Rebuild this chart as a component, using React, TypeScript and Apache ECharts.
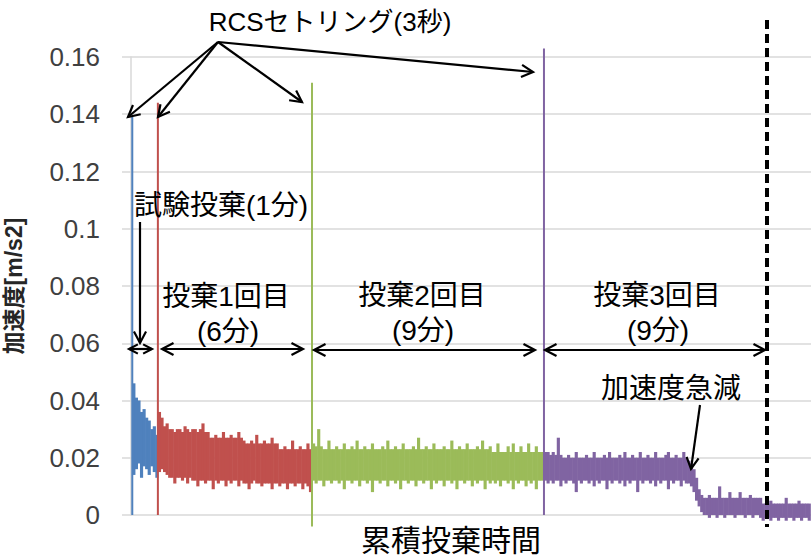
import React, { useEffect, useRef } from "react";
import * as echarts from "echarts";

// ---- axis values ----
const yTicks = [0, 0.02, 0.04, 0.06, 0.08, 0.1, 0.12, 0.14, 0.16];
const xMinMinutes = 0;
const xMaxMinutes = 26.56;
const stepMin = 0.1; // width of one sample block (minutes)

// ---- 試験投棄 (blue) ----
const blueStart = 0.05;
const blueHi = [0.046, 0.041, 0.040, 0.036, 0.037, 0.034, 0.033, 0.030, 0.031, 0.028];
const blueLo = [0.014, 0.016, 0.018, 0.013, 0.017, 0.016, 0.014, 0.017, 0.015, 0.013];

// ---- 投棄1回目 (red) ----
const redStart = 1.05;
const redHi = [
  0.036, 0.034, 0.031, 0.032, 0.030, 0.030,
  0.029, 0.030, 0.030, 0.029, 0.031, 0.030, 0.029, 0.030, 0.030, 0.029,
  0.030, 0.032, 0.029, 0.029,
  0.027, 0.027, 0.028, 0.027, 0.027, 0.029, 0.027, 0.027, 0.028, 0.027, 0.027, 0.029, 0.027, 0.026,
  0.025, 0.025, 0.026, 0.025, 0.028, 0.025, 0.025, 0.026, 0.025, 0.025, 0.027, 0.025, 0.025,
  0.023, 0.023, 0.024, 0.023, 0.023, 0.026, 0.023, 0.023, 0.024, 0.023, 0.023, 0.025, 0.023,
];
const redLo = [
  0.015, 0.016, 0.015, 0.014,
  0.013, 0.013, 0.011, 0.013, 0.013, 0.012, 0.013, 0.011, 0.013,
  0.012, 0.012, 0.010, 0.012, 0.012, 0.011, 0.012, 0.012, 0.009, 0.012,
  0.011, 0.012, 0.012, 0.010, 0.012, 0.011, 0.012, 0.012, 0.010, 0.012,
  0.011, 0.011, 0.009, 0.011, 0.012, 0.011, 0.011, 0.010, 0.011, 0.011,
  0.011, 0.009, 0.011, 0.011, 0.010, 0.011, 0.011, 0.009, 0.011, 0.011,
  0.010, 0.011, 0.011, 0.009, 0.011, 0.010, 0.008,
];

// ---- 投棄2回目 (green) ----
const greenStart = 7.07;
const greenHi = [
  0.025, 0.024, 0.030, 0.024, 0.023, 0.023, 0.026, 0.023, 0.023, 0.024,
  0.023, 0.023, 0.025, 0.023, 0.023, 0.024, 0.023, 0.026, 0.023, 0.023,
  0.024, 0.023, 0.023, 0.025, 0.023, 0.023, 0.023, 0.024, 0.023, 0.026,
  0.023, 0.023, 0.024, 0.023, 0.023, 0.025, 0.023, 0.023, 0.023, 0.024,
  0.023, 0.027, 0.023, 0.023, 0.024, 0.023, 0.023, 0.025, 0.023, 0.023,
  0.023, 0.024, 0.023, 0.023, 0.026, 0.023, 0.023, 0.024, 0.023, 0.023,
  0.025, 0.023, 0.023, 0.023, 0.024, 0.023, 0.026, 0.023, 0.023, 0.024,
  0.022, 0.022, 0.025, 0.022, 0.022, 0.022, 0.024, 0.022, 0.025, 0.022,
  0.022, 0.024, 0.022, 0.022, 0.025, 0.022, 0.022, 0.024, 0.022, 0.022,
];
const greenLo = [
  0.012, 0.011, 0.012, 0.012, 0.010, 0.012, 0.012, 0.011, 0.012, 0.012,
  0.011, 0.012, 0.009, 0.012, 0.012, 0.011, 0.012, 0.012, 0.010, 0.012,
  0.012, 0.011, 0.012, 0.008, 0.012, 0.012, 0.011, 0.012, 0.012, 0.010,
  0.012, 0.012, 0.011, 0.012, 0.009, 0.012, 0.012, 0.011, 0.012, 0.012,
  0.010, 0.012, 0.012, 0.011, 0.012, 0.012, 0.009, 0.012, 0.011, 0.012,
  0.012, 0.010, 0.012, 0.012, 0.011, 0.012, 0.009, 0.012, 0.012, 0.011,
  0.012, 0.012, 0.010, 0.012, 0.011, 0.012, 0.012, 0.009, 0.012, 0.011,
  0.012, 0.011, 0.012, 0.010, 0.012, 0.012, 0.011, 0.012, 0.009, 0.012,
  0.011, 0.012, 0.012, 0.010, 0.012, 0.011, 0.012, 0.009, 0.012, 0.012,
];

// ---- 投棄3回目 (purple) ----
const purpleStart = 16.13;
const purpleHi = [
  0.022, 0.022, 0.021, 0.022, 0.021, 0.027, 0.021, 0.020, 0.020, 0.021,
  0.020, 0.020, 0.022, 0.020, 0.020, 0.020, 0.021, 0.020, 0.020, 0.022,
  0.020, 0.020, 0.020, 0.021, 0.020, 0.022, 0.020, 0.020, 0.020, 0.021,
  0.020, 0.022, 0.020, 0.020, 0.021, 0.020, 0.020, 0.022, 0.020, 0.020,
  0.021, 0.020, 0.020, 0.022, 0.020, 0.020, 0.020, 0.021, 0.022, 0.020,
  0.020, 0.021, 0.020, 0.020, 0.022, 0.020, 0.019, 0.018, 0.016, 0.013,
  0.009, 0.007, 0.006, 0.006, 0.007, 0.006, 0.006, 0.006, 0.010, 0.006,
  0.006, 0.006, 0.008, 0.006, 0.006, 0.006, 0.008, 0.006, 0.006, 0.006,
  0.007, 0.006, 0.006, 0.006, 0.006, 0.004, 0.004, 0.004, 0.005, 0.004,
  0.004, 0.004, 0.004, 0.004, 0.006, 0.004, 0.004, 0.004, 0.004, 0.005,
  0.004, 0.004, 0.004, 0.004,
];
const purpleLo = [
  0.012, 0.011, 0.012, 0.011, 0.012, 0.012, 0.010, 0.012, 0.011, 0.012,
  0.012, 0.011, 0.008, 0.012, 0.011, 0.012, 0.012, 0.011, 0.012, 0.010,
  0.012, 0.011, 0.012, 0.012, 0.009, 0.012, 0.011, 0.012, 0.012, 0.011,
  0.012, 0.010, 0.012, 0.011, 0.012, 0.012, 0.008, 0.012, 0.011, 0.012,
  0.012, 0.011, 0.012, 0.010, 0.012, 0.011, 0.012, 0.012, 0.009, 0.012,
  0.011, 0.012, 0.012, 0.010, 0.012, 0.011, 0.011, 0.010, 0.008, 0.005,
  0.003, 0.001, 0.000, 0.000, -0.001, 0.000, 0.000, -0.001, 0.000, 0.000,
  -0.001, 0.000, 0.000, 0.000, -0.001, 0.000, 0.000, 0.000, -0.001, 0.000,
  0.000, -0.001, 0.000, 0.000, -0.001, -0.002, -0.001, -0.001, -0.002, -0.001,
  -0.001, -0.002, -0.001, -0.001, -0.002, -0.001, -0.001, -0.002, -0.001, -0.001,
  -0.002, -0.001, -0.001, -0.002,
];

// ---- RCS settling spikes: [minute, low, high] ----
const blueSpike = [0.05, 0.0, 0.139];
const redSpike = [1.05, 0.0, 0.144];
const greenSpike = [7.07, -0.004, 0.151];
const purpleSpike = [16.13, 0.0, 0.163];

const COLORS = { blue: "#4f81bd", red: "#c0504d", green: "#9bbb59", purple: "#8064a2" };
const FONT = "'Liberation Sans', 'Noto Sans CJK JP', sans-serif";

function blocks(start: number, hi: number[], lo: number[]) {
  return hi.map((h, i) => [start + stepMin * (i + 0.5), lo[i], h]);
}

function bandSeries(name: string, color: string, data: number[][]) {
  return {
    type: "custom",
    name,
    clip: false,
    encode: { x: 0, y: [1, 2] },
    data,
    renderItem: (_p: any, api: any) => {
      const x = api.value(0);
      const a = api.coord([x - stepMin / 2, api.value(2)]);
      const b = api.coord([x + stepMin / 2, api.value(1)]);
      return {
        type: "rect",
        shape: { x: a[0], y: a[1], width: b[0] - a[0] + 0.6, height: b[1] - a[1] },
        style: { fill: color },
      };
    },
  };
}

function spikeSeries(name: string, color: string, spike: number[]) {
  return {
    type: "custom",
    name,
    clip: false,
    encode: { x: 0, y: [1, 2] },
    data: [spike],
    renderItem: (_p: any, api: any) => {
      const a = api.coord([api.value(0), api.value(2)]);
      const b = api.coord([api.value(0), api.value(1)]);
      return {
        type: "rect",
        shape: { x: a[0] - 1, y: a[1], width: 2, height: b[1] - a[1] },
        style: { fill: color },
      };
    },
  };
}

function arrow(x1: number, y1: number, x2: number, y2: number, both = false, L = 13) {
  const els: any[] = [];
  const st = { stroke: "#000", lineWidth: 2.2, fill: "none" };
  els.push({ type: "line", shape: { x1, y1, x2, y2 }, style: st, z: 100 });
  const head = (tx: number, ty: number, ang: number) => {
    const t = Math.PI / 6.5;
    return {
      type: "polyline",
      shape: {
        points: [
          [tx - L * Math.cos(ang - t), ty - L * Math.sin(ang - t)],
          [tx, ty],
          [tx - L * Math.cos(ang + t), ty - L * Math.sin(ang + t)],
        ],
      },
      style: st,
      z: 100,
    };
  };
  const ang = Math.atan2(y2 - y1, x2 - x1);
  els.push(head(x2, y2, ang));
  if (both) els.push(head(x1, y1, ang + Math.PI));
  return els;
}

function label(text: string, x: number, y: number, size = 28) {
  return {
    type: "text",
    x,
    y,
    z: 100,
    style: { text, fontSize: size, fontFamily: FONT, fill: "#000", align: "center", verticalAlign: "middle" },
  };
}

export default function App() {
  const ref = useRef<HTMLDivElement>(null);
  useEffect(() => {
    if (!ref.current) return;
    const chart = echarts.init(ref.current, null, { renderer: "svg" });
    const graphic: any[] = [
      label("RCSセトリング(3秒)", 330, 22, 26),
      ...arrow(218, 42, 128, 117),
      ...arrow(218, 42, 158, 117),
      ...arrow(218, 42, 302, 102),
      ...arrow(218, 42, 533, 72),
      label("試験投棄(1分)", 221, 205, 28),
      ...arrow(140, 222, 140, 343),
      ...arrow(129, 349, 152, 349, true, 10),
      label("投棄1回目", 226, 296, 28),
      label("(6分)", 228, 331, 28),
      ...arrow(162, 349, 303, 349, true),
      label("投棄2回目", 422, 295, 28),
      label("(9分)", 423, 330, 28),
      ...arrow(314, 350, 535, 350, true),
      label("投棄3回目", 657, 295, 28),
      label("(9分)", 658, 330, 28),
      ...arrow(545, 350, 765, 350, true),
      label("加速度急減", 671, 388, 28),
      ...arrow(700, 405, 691, 469),
      {
        type: "line",
        shape: { x1: 767, y1: 20, x2: 767, y2: 527 },
        style: { stroke: "#000", lineWidth: 4, lineDash: [9, 5] },
        z: 100,
      },
      label("累積投棄時間", 451, 540, 30),
    ];
    chart.setOption({
      animation: false,
      backgroundColor: "#fff",
      grid: { left: 131, right: 0, top: 57, bottom: 43, containLabel: false, outerBoundsMode: "none" },
      xAxis: {
        type: "value",
        min: xMinMinutes,
        max: xMaxMinutes,
        show: false,
      },
      yAxis: {
        type: "value",
        min: yTicks[0],
        max: yTicks[yTicks.length - 1],
        interval: yTicks[1] - yTicks[0],
        name: "加速度[m/s2]",
        nameLocation: "middle",
        nameRotate: 90,
        nameGap: 106,
        nameTextStyle: { fontSize: 23, fontWeight: "bold", color: "#262626", fontFamily: FONT },
        axisLine: { show: true, lineStyle: { color: "#d9d9d9", width: 1.5 } },
        axisTick: { show: true, length: 9, lineStyle: { color: "#d9d9d9", width: 1.5 } },
        splitLine: { show: true, lineStyle: { color: "#d9d9d9", width: 1.5 } },
        axisLabel: {
          margin: 31,
          fontSize: 26,
          color: "#404040",
          fontFamily: FONT,
          formatter: (v: number) => {
            const i = yTicks.findIndex((t) => Math.abs(t - v) < 1e-9);
            return i >= 0 ? String(yTicks[i]) : "";
          },
        },
      },
      series: [
        bandSeries("試験投棄", COLORS.blue, blocks(blueStart, blueHi, blueLo)),
        bandSeries("投棄1回目", COLORS.red, blocks(redStart, redHi, redLo)),
        bandSeries("投棄2回目", COLORS.green, blocks(greenStart, greenHi, greenLo)),
        bandSeries("投棄3回目", COLORS.purple, blocks(purpleStart, purpleHi, purpleLo)),
        spikeSeries("RCS1", COLORS.blue, blueSpike),
        spikeSeries("RCS2", COLORS.red, redSpike),
        spikeSeries("RCS3", COLORS.green, greenSpike),
        spikeSeries("RCS4", COLORS.purple, purpleSpike),
      ],
      graphic,
    });
    return () => chart.dispose();
  }, []);
  return (
    <div
      ref={ref}
      style={{ position: "fixed", left: 0, top: 0, width: 811, height: 558, background: "#fff" }}
    />
  );
}
